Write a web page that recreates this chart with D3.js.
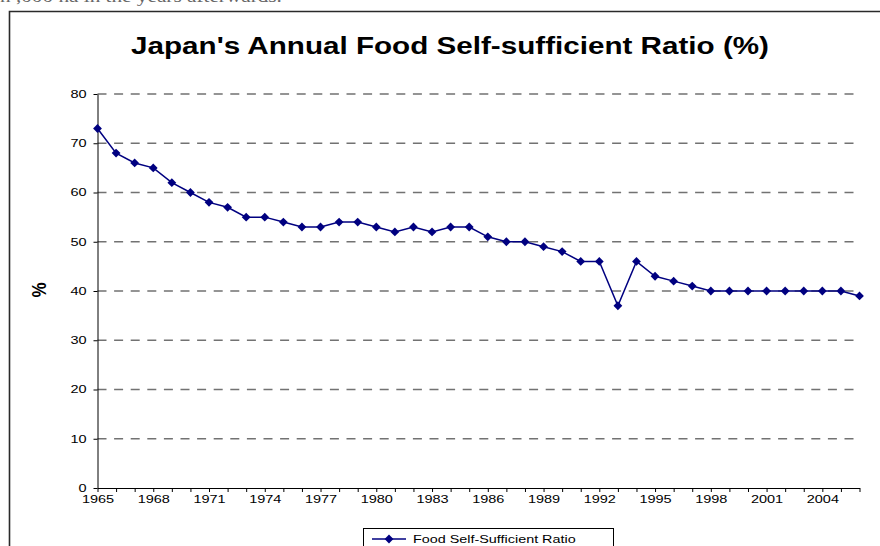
<!DOCTYPE html>
<html>
<head>
<meta charset="utf-8">
<script src="https://cdn.jsdelivr.net/npm/d3@7"></script>
<style>
  html, body { margin: 0; padding: 0; background: #fff; }
  svg { display: block; }
  text { font-family: "Liberation Sans", Arial, sans-serif; }
</style>
</head>
<body>
<svg id="chart" width="880" height="546"></svg>
<script>
// Categories (years) and the food self-sufficiency ratio, in percent
const years = [
  1965, 1966, 1967, 1968, 1969, 1970, 1971, 1972, 1973, 1974,
  1975, 1976, 1977, 1978, 1979, 1980, 1981, 1982, 1983, 1984,
  1985, 1986, 1987, 1988, 1989, 1990, 1991, 1992, 1993, 1994,
  1995, 1996, 1997, 1998, 1999, 2000, 2001, 2002, 2003, 2004,
  2005, 2006
];
const ratio = [
  73, 68, 66, 65, 62, 60, 58, 57, 55, 55,
  54, 53, 53, 54, 54, 53, 52, 53, 52, 53,
  53, 51, 50, 50, 49, 48, 46, 46, 37, 46,
  43, 42, 41, 40, 40, 40, 40, 40, 40, 40,
  40, 39
];
const yTicks = [0, 10, 20, 30, 40, 50, 60, 70, 80];
const xLabelYears = [1965, 1968, 1971, 1974, 1977, 1980, 1983, 1986, 1989, 1992, 1995, 1998, 2001, 2004];
const titleText = "Japan's Annual Food Self-sufficient Ratio (%)";
const seriesName = "Food Self-Sufficient Ratio";
const yAxisName = "%";

const svg = d3.select("#chart");
const navy = "#000080";

// Widen text horizontally around its anchor point
function stretch(sel, sx) {
  sel.each(function () {
    const t = d3.select(this);
    const x = +t.attr("x") || 0, y = +t.attr("y") || 0;
    t.attr("x", 0).attr("y", 0)
     .attr("transform", `translate(${x},${y}) scale(${sx},1)`);
  });
}

// Line of body text running above the chart frame
svg.append("text")
  .attr("x", 0).attr("y", 1.5)
  .style("font-family", "'Liberation Serif', 'Times New Roman', serif")
  .style("font-size", "17px")
  .attr("fill", "#666")
  .text("n ,000 ha in the years afterwards.")
  .call(stretch, 1.25);

// Chart frame (left and top edges)
svg.append("path")
  .attr("d", "M9.5,560 L9.5,11.5 L890,11.5")
  .attr("fill", "none")
  .attr("stroke", "#2a2a2a")
  .attr("stroke-width", 1.6);

// Scales
const x = d3.scalePoint().domain(years).range([97.5, 859.5]);
const y = d3.scaleLinear().domain([0, 80]).range([488, 94]);

// Horizontal dashed gridlines
svg.append("g")
  .selectAll("line")
  .data(yTicks.filter(v => v > 0))
  .join("line")
  .attr("x1", x(years[0])).attr("x2", x(years[years.length - 1]))
  .attr("y1", d => y(d)).attr("y2", d => y(d))
  .attr("stroke", "#727272")
  .attr("stroke-width", 1.4)
  .attr("stroke-dasharray", "9,7.6");

// Y axis
const yAxis = svg.append("g")
  .attr("transform", `translate(${x(years[0])},0)`)
  .call(d3.axisLeft(y).tickValues(yTicks).tickSize(4).tickPadding(7).tickSizeOuter(0));
yAxis.select(".domain").attr("stroke", "#000").attr("stroke-width", 1);
yAxis.selectAll(".tick line").attr("stroke", "#000");
yAxis.selectAll("text")
  .style("font-size", "10.5px").attr("fill", "#000")
  .call(stretch, 1.38);

// X axis: a tick for every year, a label every third year
const xAxis = svg.append("g")
  .attr("transform", `translate(0,${y(0)})`)
  .call(d3.axisBottom(x).tickSize(4).tickPadding(4).tickSizeOuter(0)
    .tickFormat(d => xLabelYears.includes(d) ? String(d) : ""));
xAxis.select(".domain").attr("stroke", "#000").attr("stroke-width", 1);
xAxis.selectAll(".tick line").attr("stroke", "#000");
xAxis.selectAll("text")
  .style("font-size", "10.5px").attr("fill", "#000")
  .call(stretch, 1.38);

// Series line
const line = d3.line()
  .x((d, i) => x(years[i]))
  .y(d => y(d));
svg.append("path")
  .datum(ratio)
  .attr("d", line)
  .attr("fill", "none")
  .attr("stroke", navy)
  .attr("stroke-width", 1.5);

// Diamond markers
const diamond = "M0,-4.4L4.4,0L0,4.4L-4.4,0Z";
svg.append("g")
  .selectAll("path")
  .data(ratio)
  .join("path")
  .attr("d", diamond)
  .attr("transform", (d, i) => `translate(${x(years[i])},${y(d)})`)
  .attr("fill", navy);

// Title
svg.append("text")
  .attr("x", 450).attr("y", 54)
  .attr("text-anchor", "middle")
  .style("font-size", "24px").style("font-weight", "bold")
  .attr("fill", "#000")
  .text(titleText)
  .call(stretch, 1.235);

// Y axis name
svg.append("text")
  .attr("transform", "translate(46,290) scale(1.15,1) rotate(-90)")
  .attr("text-anchor", "middle")
  .style("font-size", "17px").style("font-weight", "bold")
  .attr("fill", "#000")
  .text(yAxisName);

// Legend
const legend = svg.append("g");
legend.append("rect")
  .attr("x", 363.5).attr("y", 528.5)
  .attr("width", 250).attr("height", 30)
  .attr("fill", "#fff").attr("stroke", "#000").attr("stroke-width", 1);
legend.append("line")
  .attr("x1", 372).attr("x2", 406).attr("y1", 539).attr("y2", 539)
  .attr("stroke", navy).attr("stroke-width", 1.5);
legend.append("path")
  .attr("d", diamond)
  .attr("transform", "translate(389,539)")
  .attr("fill", navy);
legend.append("text")
  .attr("x", 413).attr("y", 543)
  .style("font-size", "10.5px")
  .attr("fill", "#000")
  .text(seriesName)
  .call(stretch, 1.37);
</script>
</body>
</html>
